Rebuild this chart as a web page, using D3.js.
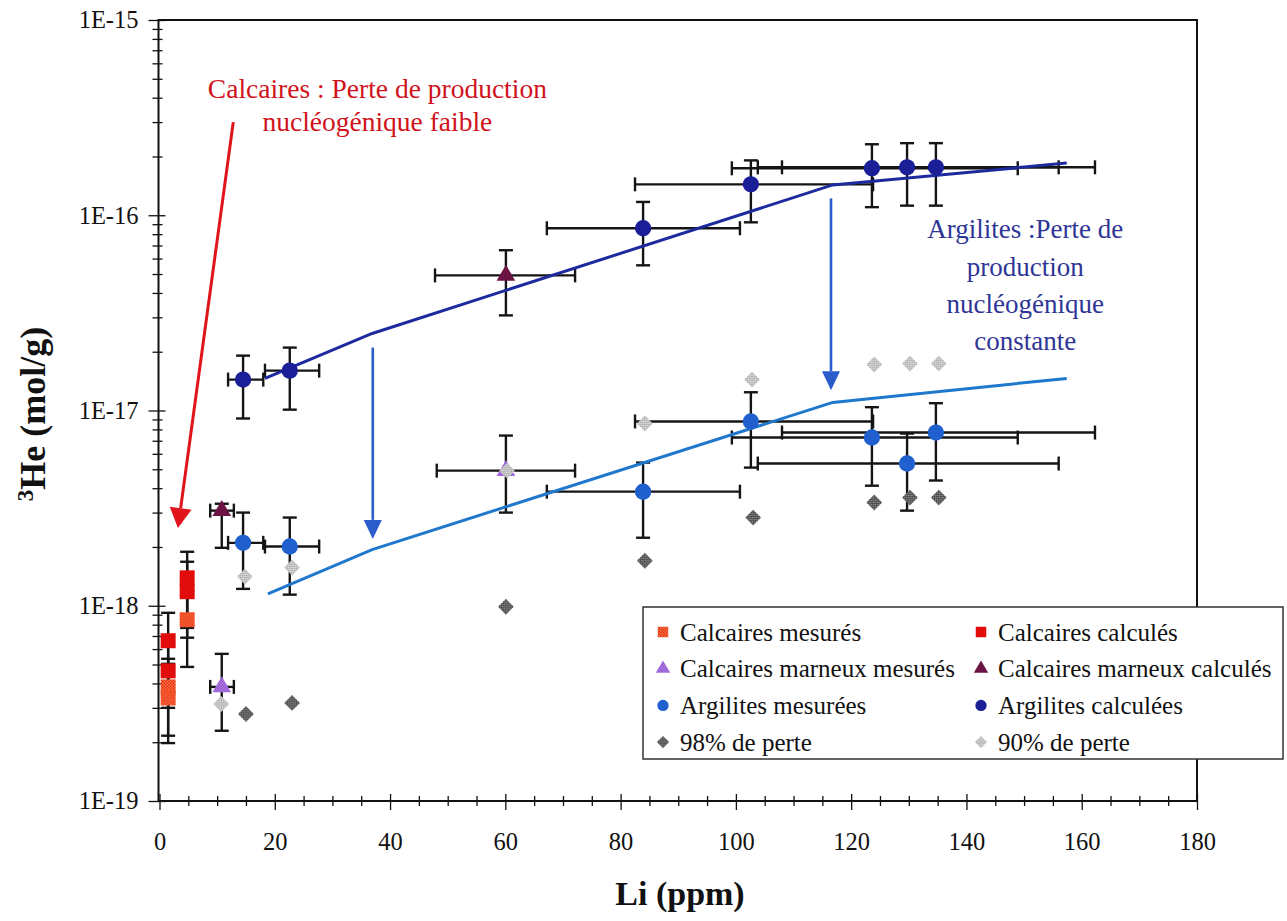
<!DOCTYPE html>
<html>
<head>
<meta charset="utf-8">
<script src="https://cdn.jsdelivr.net/npm/d3@7"></script>
<style>
  body { margin: 0; background: #fff; }
  text { font-family: "Liberation Serif", "Times New Roman", serif; }
</style>
</head>
<body>
<div id="chart"></div>
<script>
// values (Li in ppm, 3He in mol/g)
var calcMes = [   // Calcaires mesures
  {li: 1.5, he: 3.84e-19, lo: 2.16e-19, hi: 5.35e-19},
  {li: 1.5, he: 3.37e-19, lo: 1.98e-19, hi: 5.04e-19},
  {li: 4.8, he: 8.48e-19, lo: 4.86e-19, hi: 1.18e-18}
];
var calcCalc = [  // Calcaires calcules
  {li: 1.5, he: 6.62e-19, lo: 3.8e-19, hi: 9.2e-19},
  {li: 1.5, he: 4.64e-19, lo: 3.0e-19, hi: 6.46e-19},
  {li: 4.8, he: 1.39e-18, lo: 7.7e-19, hi: 1.89e-18},
  {li: 4.8, he: 1.18e-18, lo: 6.86e-19, hi: 1.68e-18}
];
var marnMes = [   // Calcaires marneux mesures
  {li: 10.8, he: 3.84e-19, lo: 2.29e-19, hi: 5.67e-19, liLo: 8.8, liHi: 12.9},
  {li: 60.1, he: 4.92e-18, lo: 3.0e-18, hi: 7.44e-18, liLo: 48.1, liHi: 72.1}
];
var marnCalc = [  // Calcaires marneux calcules
  {li: 10.8, he: 3.07e-18, lo: 1.98e-18, hi: 3.33e-18, liLo: 8.8, liHi: 12.9},
  {li: 60.1, he: 4.92e-17, lo: 3.07e-17, hi: 6.62e-17, liLo: 47.8, liHi: 72.1}
];
var argMes = [    // Argilites mesurees
  {li: 14.5, he: 2.1e-18, lo: 1.22e-18, hi: 3.0e-18, liLo: 11.9, liHi: 18.0},
  {li: 22.6, he: 2.01e-18, lo: 1.14e-18, hi: 2.83e-18, liLo: 18.3, liHi: 27.7},
  {li: 83.9, he: 3.84e-18, lo: 2.23e-18, hi: 5.41e-18, liLo: 67.2, liHi: 100.7},
  {li: 102.6, he: 8.79e-18, lo: 5.1e-18, hi: 1.24e-17, liLo: 82.5, liHi: 123.8},
  {li: 123.6, he: 7.27e-18, lo: 4.12e-18, hi: 1.04e-17, liLo: 99.3, liHi: 148.9},
  {li: 129.7, he: 5.35e-18, lo: 3.07e-18, hi: 7.62e-18, liLo: 103.8, liHi: 156.0},
  {li: 134.7, he: 7.71e-18, lo: 4.38e-18, hi: 1.09e-17, liLo: 108.0, liHi: 162.3}
];
var argCalc = [   // Argilites calculees
  {li: 14.5, he: 1.44e-17, lo: 9.1e-18, hi: 1.91e-17, liLo: 11.9, liHi: 18.0},
  {li: 22.6, he: 1.6e-17, lo: 1.01e-17, hi: 2.1e-17, liLo: 18.3, liHi: 27.7},
  {li: 83.9, he: 8.58e-17, lo: 5.54e-17, hi: 1.17e-16, liLo: 67.2, liHi: 100.7},
  {li: 102.6, he: 1.44e-16, lo: 9.2e-17, hi: 1.91e-16, liLo: 82.5, liHi: 123.8},
  {li: 123.6, he: 1.74e-16, lo: 1.1e-16, hi: 2.31e-16, liLo: 99.3, liHi: 148.9},
  {li: 129.7, he: 1.76e-16, lo: 1.12e-16, hi: 2.34e-16, liLo: 103.8, liHi: 156.0},
  {li: 134.7, he: 1.76e-16, lo: 1.12e-16, hi: 2.34e-16, liLo: 108.0, liHi: 162.3}
];
var loss98 = [    // 98% de perte
  {li: 15.0, he: 2.79e-19}, {li: 23.0, he: 3.18e-19}, {li: 60.1, he: 9.88e-19},
  {li: 84.2, he: 1.70e-18}, {li: 103.0, he: 2.83e-18}, {li: 124.0, he: 3.38e-18},
  {li: 130.2, he: 3.58e-18}, {li: 135.2, he: 3.58e-18}
];
var loss90 = [    // 90% de perte
  {li: 10.7, he: 3.14e-19}, {li: 14.8, he: 1.41e-18}, {li: 23.0, he: 1.57e-18},
  {li: 60.3, he: 4.92e-18}, {li: 84.2, he: 8.58e-18}, {li: 102.8, he: 1.44e-17},
  {li: 124.0, he: 1.72e-17}, {li: 130.2, he: 1.74e-17}, {li: 135.2, he: 1.74e-17}
];
var modelCalc = [[18.3, 1.46e-17], [36.9, 2.48e-17], [116.8, 1.43e-16], [157.4, 1.85e-16]];
var modelMes  = [[18.8, 1.15e-18], [36.9, 1.94e-18], [116.8, 1.10e-17], [157.4, 1.46e-17]];

var xTicks = [0, 20, 40, 60, 80, 100, 120, 140, 160, 180];
var yTicks = [1e-15, 1e-16, 1e-17, 1e-18, 1e-19];
var yLabels = ["1E-15", "1E-16", "1E-17", "1E-18", "1E-19"];

var legendLabels = ["Calcaires mesurés", "Calcaires calculés",
                    "Calcaires marneux mesurés", "Calcaires marneux calculés",
                    "Argilites mesurées", "Argilites calculées",
                    "98% de perte", "90% de perte"];

var redNote = ["Calcaires : Perte de production", "nucléogénique faible"];
var blueNote = ["Argilites :Perte de", "production", "nucléogénique", "constante"];

// annotation arrows, in data units: [li, he] start -> tip
var redArrow = [[12.8, 3.0e-16], [3.2, 2.5e-18]];
var blueArrows = [
  [[37.0, 2.1e-17], [37.0, 2.2e-18]],
  [[116.5, 1.22e-16], [116.5, 1.27e-17]]
];

var W = 1287, H = 921;
var svg = d3.select("#chart").append("svg").attr("width", W).attr("height", H);

var x = d3.scaleLinear().domain([0, 180]).range([159.5, 1197]);
var y = d3.scaleLog().domain([1e-19, 1e-15]).range([801, 20]);

// textured fills like the scanned markers
var defs = svg.append("defs");
function dotPattern(id, bg, fg) {
  var p = defs.append("pattern").attr("id", id)
    .attr("width", 3).attr("height", 3).attr("patternUnits", "userSpaceOnUse");
  p.append("rect").attr("width", 3).attr("height", 3).attr("fill", bg);
  p.append("rect").attr("width", 1.5).attr("height", 1.5).attr("fill", fg);
  p.append("rect").attr("x", 1.5).attr("y", 1.5).attr("width", 1.5).attr("height", 1.5).attr("fill", fg);
}
dotPattern("pOrange", "#ff7a3a", "#e3281a");
dotPattern("pLilac", "#c093ee", "#8040c4");
dotPattern("pDark", "#9a9a9a", "#2a2a2a");
dotPattern("pLight", "#e6e6e6", "#a0a0a0");

// Axes
var yMinor = y.ticks().filter(v => Math.abs(Math.log10(v) - Math.round(Math.log10(v))) > 0.01);
var xMinor = d3.range(0, 181, 5).filter(v => v % 20 !== 0);

function styleAxis(g) {
  g.attr("font-family", null).attr("font-size", null);
  g.select(".domain").remove();
  g.selectAll("line").attr("stroke", "#111").attr("stroke-width", 1.3);
  g.selectAll("text").style("font-size", "24.5px").attr("fill", "#111");
}

svg.append("g").attr("transform", "translate(158.5,0)")
  .call(d3.axisLeft(y).tickValues(yTicks).tickFormat((d, i) => yLabels[i]).tickSize(10).tickPadding(10))
  .call(styleAxis);
svg.append("g").attr("transform", "translate(158.5,0)")
  .call(d3.axisRight(y).tickValues(yTicks).tickFormat("").tickSize(7)).call(styleAxis);
svg.append("g").attr("transform", "translate(158.5,0)")
  .call(d3.axisLeft(y).tickValues(yMinor).tickFormat("").tickSize(6)).call(styleAxis);
svg.append("g").attr("transform", "translate(158.5,0)")
  .call(d3.axisRight(y).tickValues(yMinor).tickFormat("").tickSize(4)).call(styleAxis);

svg.append("g").attr("transform", "translate(0,801)")
  .call(d3.axisBottom(x).tickValues(xTicks).tickSize(9).tickPadding(23)).call(styleAxis);
svg.append("g").attr("transform", "translate(0,801)")
  .call(d3.axisTop(x).tickValues(xTicks).tickFormat("").tickSize(7)).call(styleAxis);
svg.append("g").attr("transform", "translate(0,801)")
  .call(d3.axisBottom(x).tickValues(xMinor).tickFormat("").tickSize(5)).call(styleAxis);
svg.append("g").attr("transform", "translate(0,801)")
  .call(d3.axisTop(x).tickValues(xMinor).tickFormat("").tickSize(5)).call(styleAxis);

// plot frame
svg.append("rect").attr("x", 158.5).attr("y", 20).attr("width", 1197 - 158.5).attr("height", 781)
  .attr("fill", "none").attr("stroke", "#111").attr("stroke-width", 2);

// axis titles
var yt = svg.append("text").attr("transform", "translate(45,414) rotate(-90)")
  .attr("text-anchor", "middle").attr("font-size", "36px").attr("font-weight", "bold").attr("fill", "#111");
yt.append("tspan").attr("font-size", "23px").attr("dy", "-12").text("3");
yt.append("tspan").attr("dy", "12").text("He (mol/g)");

svg.append("text").attr("x", 680).attr("y", 905).attr("text-anchor", "middle")
  .attr("font-size", "34px").attr("font-weight", "bold").attr("fill", "#111").text("Li (ppm)");

// error bars
var cap = 7;
function drawBars(data) {
  var g = svg.append("g").attr("stroke", "#151515").attr("stroke-width", 2.4);
  var v = data.filter(d => d.lo != null);
  g.selectAll(".v").data(v).join("line")
    .attr("x1", d => x(d.li)).attr("x2", d => x(d.li))
    .attr("y1", d => y(d.hi)).attr("y2", d => y(d.lo));
  g.selectAll(".vc").data(v.flatMap(d => [[d.li, d.hi], [d.li, d.lo]])).join("line")
    .attr("x1", d => x(d[0]) - cap).attr("x2", d => x(d[0]) + cap)
    .attr("y1", d => y(d[1])).attr("y2", d => y(d[1]));
  var h = data.filter(d => d.liLo != null);
  g.selectAll(".h").data(h).join("line")
    .attr("x1", d => x(d.liLo)).attr("x2", d => x(d.liHi))
    .attr("y1", d => y(d.he)).attr("y2", d => y(d.he));
  g.selectAll(".hc").data(h.flatMap(d => [[d.liLo, d.he], [d.liHi, d.he]])).join("line")
    .attr("x1", d => x(d[0])).attr("x2", d => x(d[0]))
    .attr("y1", d => y(d[1]) - cap).attr("y2", d => y(d[1]) + cap);
}
[calcMes, calcCalc, marnMes, marnCalc, argMes, argCalc].forEach(drawBars);

// model curves
var line = d3.line().x(d => x(d[0])).y(d => y(d[1]));
svg.append("path").datum(modelCalc).attr("d", line)
  .attr("fill", "none").attr("stroke", "#1d2a9e").attr("stroke-width", 3);
svg.append("path").datum(modelMes).attr("d", line)
  .attr("fill", "none").attr("stroke", "#1f78cc").attr("stroke-width", 3);

// markers
var series = [
  {data: calcMes, type: d3.symbolSquare, size: 225, fill: "url(#pOrange)", rot: 0},
  {data: calcCalc, type: d3.symbolSquare, size: 225, fill: "#e10d0d", rot: 0},
  {data: marnMes, type: d3.symbolTriangle, size: 150, fill: "url(#pLilac)", rot: 0},
  {data: marnCalc, type: d3.symbolTriangle, size: 150, fill: "#6b1444", rot: 0},
  {data: argMes, type: d3.symbolCircle, size: 210, fill: "#1f5fce", rot: 0},
  {data: argCalc, type: d3.symbolCircle, size: 210, fill: "#1a1f98", rot: 0},
  {data: loss98, type: d3.symbolSquare, size: 125, fill: "url(#pDark)", rot: 45},
  {data: loss90, type: d3.symbolSquare, size: 125, fill: "url(#pLight)", rot: 45}
];
series.forEach(s => {
  svg.append("g").selectAll("path").data(s.data).join("path")
    .attr("d", d3.symbol().type(s.type).size(s.size))
    .attr("transform", d => "translate(" + x(d.li) + "," + y(d.he) + ") rotate(" + s.rot + ")")
    .attr("fill", s.fill);
});

// arrows
function arrow(a, color, width, headLen, headHalf) {
  var x0 = x(a[0][0]), y0 = y(a[0][1]), x1 = x(a[1][0]), y1 = y(a[1][1]);
  var ang = Math.atan2(y1 - y0, x1 - x0);
  var bx = x1 - headLen * Math.cos(ang), by = y1 - headLen * Math.sin(ang);
  svg.append("line").attr("x1", x0).attr("y1", y0).attr("x2", bx).attr("y2", by)
    .attr("stroke", color).attr("stroke-width", width);
  var px = -Math.sin(ang) * headHalf, py = Math.cos(ang) * headHalf;
  svg.append("path")
    .attr("d", "M" + x1 + "," + y1 + "L" + (bx + px) + "," + (by + py) + "L" + (bx - px) + "," + (by - py) + "Z")
    .attr("fill", color);
}
arrow(redArrow, "#e0141a", 3, 20, 11);
blueArrows.forEach(a => arrow(a, "#2a5ccc", 2.6, 19, 9));

// annotations
svg.append("g").selectAll("text").data(redNote).join("text")
  .attr("x", x(37.8)).attr("y", (d, i) => y(3.98e-16) + i * 33)
  .attr("text-anchor", "middle").attr("font-size", "27.5px").attr("fill", "#d0121c").text(d => d);
svg.append("g").selectAll("text").data(blueNote).join("text")
  .attr("x", x(150.2)).attr("y", (d, i) => y(7.62e-17) + i * 37.3)
  .attr("text-anchor", "middle").attr("font-size", "27px").attr("fill", "#2e3596").text(d => d);

// legend (box runs past the plot frame, as in the source)
var lg = svg.append("g");
lg.append("rect").attr("x", 643).attr("y", 607).attr("width", 640).attr("height", 152)
  .attr("fill", "#fff").attr("stroke", "#333").attr("stroke-width", 1.5);
var legSize = [110, 110, 90, 90, 100, 100, 75, 75];
lg.selectAll("g.item").data(legendLabels).join("g")
  .attr("transform", (d, i) => "translate(" + (i % 2 ? 981 : 663) + "," + (632 + Math.floor(i / 2) * 36.7) + ")")
  .each(function(d, i) {
    var s = series[i];
    d3.select(this).append("path")
      .attr("d", d3.symbol().type(s.type).size(legSize[i]))
      .attr("transform", "rotate(" + s.rot + ")")
      .attr("fill", s.fill);
    d3.select(this).append("text").attr("x", 17).attr("dy", "0.35em")
      .attr("font-size", "25px").attr("fill", "#111").text(d);
  });
</script>
</body>
</html>
